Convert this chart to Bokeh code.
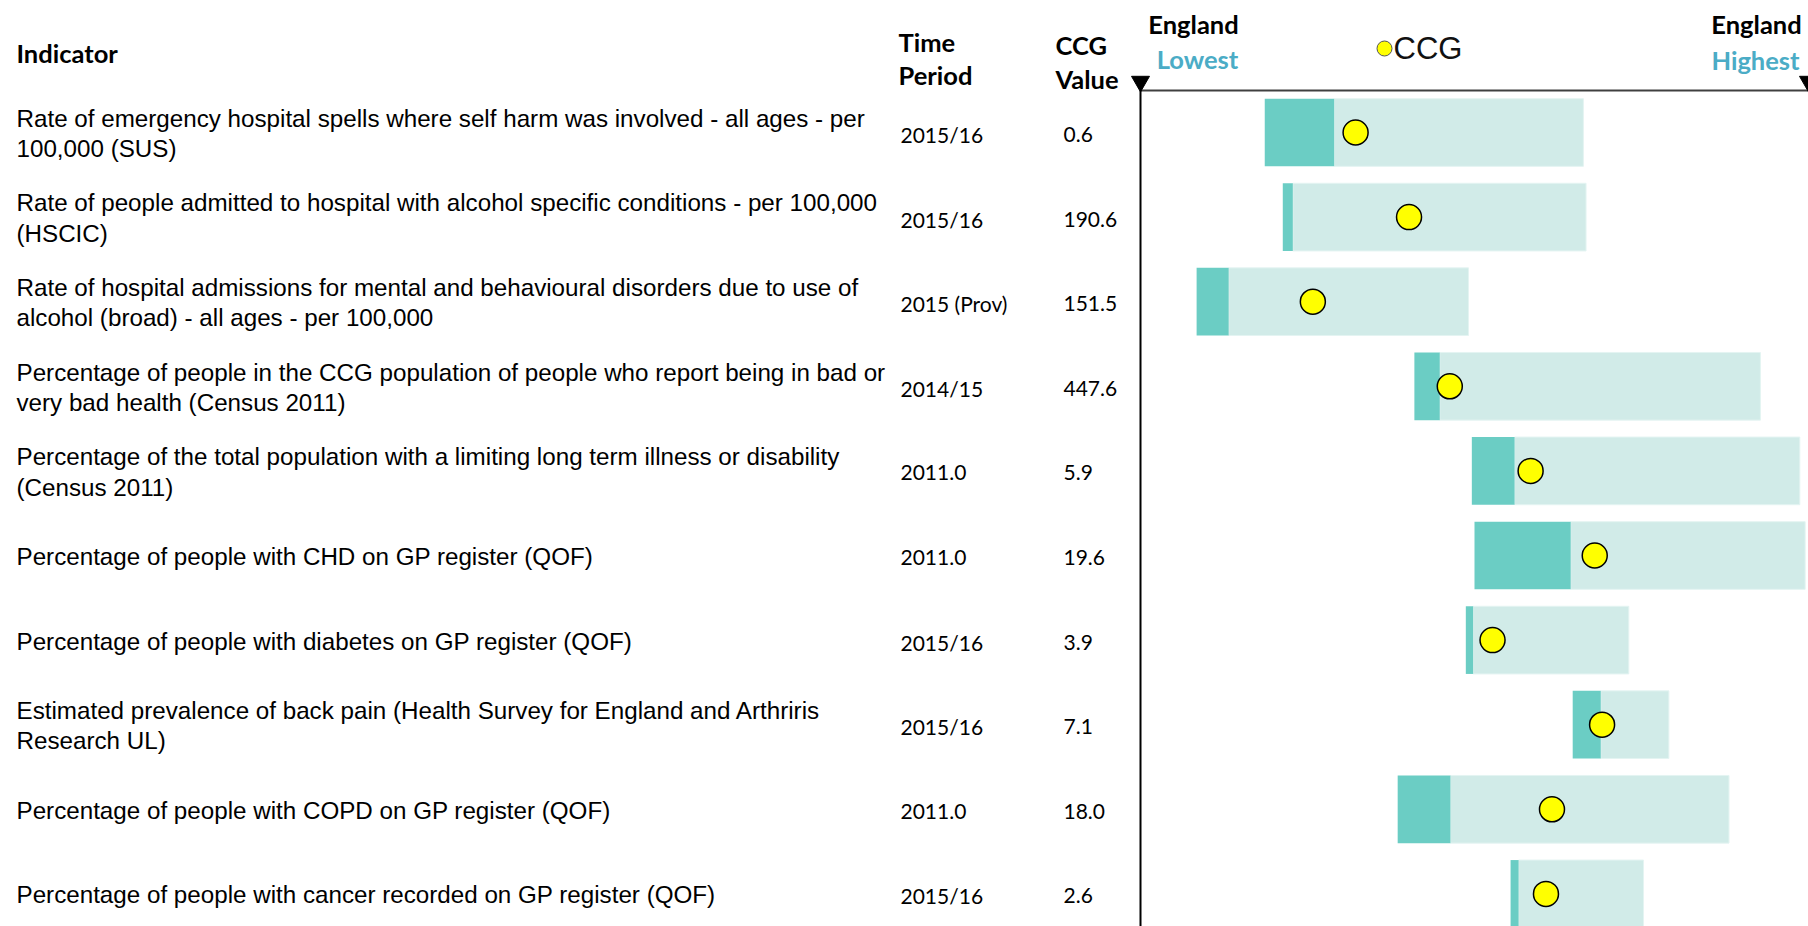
from bokeh.plotting import figure
from bokeh.layouts import row
from bokeh.models import Range1d, ColumnDataSource
from bokeh.core.properties import value
from bokeh.embed import file_html
from bokeh.resources import INLINE

# ---------------- data ----------------
indicators = [
    "Rate of emergency hospital spells where self harm was involved - all ages - per\n100,000 (SUS)",
    "Rate of people admitted to hospital with alcohol specific conditions - per 100,000\n(HSCIC)",
    "Rate of hospital admissions for mental and behavioural disorders due to use of\nalcohol (broad) - all ages - per 100,000",
    "Percentage of people in the CCG population of people who report being in bad or\nvery bad health (Census 2011)",
    "Percentage of the total population with a limiting long term illness or disability\n(Census 2011)",
    "Percentage of people with CHD on GP register (QOF)",
    "Percentage of people with diabetes on GP register (QOF)",
    "Estimated prevalence of back pain (Health Survey for England and Arthriris\nResearch UL)",
    "Percentage of people with COPD on GP register (QOF)",
    "Percentage of people with cancer recorded on GP register (QOF)",
]
time_periods = ["2015/16", "2015/16", "2015 (Prov)", "2014/15", "2011.0",
                "2011.0", "2015/16", "2015/16", "2011.0", "2015/16"]
ccg_values = ["0.6", "190.6", "151.5", "447.6", "5.9",
              "19.6", "3.9", "7.1", "18.0", "2.6"]

# positions on the spine scale (0 = England lowest, 100 = England highest)
band_start = [18.6, 21.3, 8.4, 41.0, 49.6, 50.0, 48.7, 64.7, 38.5, 55.4]
band_mid = [29.0, 22.8, 13.2, 44.8, 56.0, 64.4, 49.8, 68.9, 46.4, 56.6]
band_end = [66.3, 66.7, 49.1, 92.8, 98.7, 99.5, 73.1, 79.1, 88.1, 75.3]
ccg_pos = [32.2, 40.2, 25.8, 46.3, 58.4, 68.0, 52.7, 69.1, 61.6, 60.7]

# ---------------- layout constants ----------------
H = 926
ROW_PX = 84.6
TOP_PX = 132.0
Y_TOP = -TOP_PX / ROW_PX
Y_BOT = (H - TOP_PX) / ROW_PX


def ypix(page_y):
    return (page_y - TOP_PX) / ROW_PX


rows = list(range(len(indicators)))
DARK = "#6bcdc4"
LIGHT = "#d1ebe8"
BLUE = "#4bacc6"

BODY_FONT = value("Liberation Sans")
CAL = value("Lato")

# ---------------- left table figure ----------------
WL = 1120
left = figure(width=WL, height=H, x_range=Range1d(0, WL), y_range=Range1d(Y_BOT, Y_TOP),
              output_backend="svg", toolbar_location=None,
              x_axis_location=None, y_axis_location=None, min_border=0,
              outline_line_color=None)
left.grid.visible = False

tsrc = ColumnDataSource(dict(y=rows, ind=indicators, tp=time_periods, cv=ccg_values))
left.text(x=16, y="y", text="ind", source=tsrc, text_font=BODY_FONT, text_font_size="24.2px",
          text_baseline="middle", text_align="left", text_color="#000000",
          text_line_height=1.13, y_offset=1)
left.text(x=900, y="y", text="tp", source=tsrc, text_font=CAL, text_font_size="21px",
          text_baseline="middle", text_align="left", text_color="#000000", y_offset=2)
left.text(x=1063, y="y", text="cv", source=tsrc, text_font=CAL, text_font_size="21px",
          text_baseline="middle", text_align="left", text_color="#000000", y_offset=2)

hdr = dict(text_font=CAL, text_font_size="25.5px", text_font_style="bold",
           text_baseline="middle", text_align="left", text_color="#000000")
left.text(x=[16], y=[ypix(52)], text=["Indicator"], **hdr)
left.text(x=[898], y=[ypix(41)], text=["Time"], **hdr)
left.text(x=[898], y=[ypix(74)], text=["Period"], **hdr)
left.text(x=[1055], y=[ypix(44)], text=["CCG"], **hdr)
left.text(x=[1055], y=[ypix(78)], text=["Value"], **hdr)

# ---------------- right spine chart ----------------
AXIS_PX = 1140
WR = 1808 - WL
PX_PER_UNIT = 6.68
x0 = (WL - AXIS_PX) / PX_PER_UNIT
x1 = x0 + WR / PX_PER_UNIT
right = figure(width=WR, height=H, x_range=Range1d(x0, x1), y_range=Range1d(Y_BOT, Y_TOP),
               output_backend="svg", toolbar_location=None,
               x_axis_location=None, y_axis_location=None, min_border=0,
               outline_line_color=None)
right.grid.visible = False

bsrc = ColumnDataSource(dict(y=rows, s=band_start, m=band_mid, e=band_end, c=ccg_pos))
right.hbar(y="y", left="m", right="e", height=0.8, source=bsrc,
           fill_color=LIGHT, line_color="#e4f4f2", line_width=1)
right.hbar(y="y", left="s", right="m", height=0.8, source=bsrc,
           fill_color=DARK, line_color=None)
right.scatter(x="c", y="y", source=bsrc, marker="circle", size=25,
              fill_color="#ffff00", line_color="#000000", line_width=1.5)

# axis lines
ytop_line = ypix(90)
right.segment(x0=[0], y0=[ytop_line], x1=[100], y1=[ytop_line], line_color="#404040", line_width=2)
right.segment(x0=[0], y0=[ytop_line], x1=[0], y1=[Y_BOT], line_color="#000000", line_width=2)
right.scatter(x=[0, 100], y=[ypix(81), ypix(81)], marker="inverted_triangle", size=18,
              fill_color="#000000", line_color="#000000")

# header labels
chdr = dict(text_font=CAL, text_font_size="25.5px", text_font_style="bold",
            text_baseline="middle", text_align="center")
right.text(x=[(1193 - AXIS_PX) / PX_PER_UNIT], y=[ypix(23)], text=["England"], text_color="#000000", **chdr)
right.text(x=[(1197 - AXIS_PX) / PX_PER_UNIT], y=[ypix(58)], text=["Lowest"], text_color=BLUE, **chdr)
right.text(x=[(1756 - AXIS_PX) / PX_PER_UNIT], y=[ypix(23)], text=["England"], text_color="#000000", **chdr)
right.text(x=[(1755 - AXIS_PX) / PX_PER_UNIT], y=[ypix(59)], text=["Highest"], text_color=BLUE, **chdr)

# legend
right.scatter(x=[(1384 - AXIS_PX) / PX_PER_UNIT], y=[ypix(48)], marker="circle", size=15,
              fill_color="#ffff00", line_color="#555555", line_width=1)
right.text(x=[(1393 - AXIS_PX) / PX_PER_UNIT], y=[ypix(48)], text=["CCG"], text_font=BODY_FONT,
           text_font_size="31px", text_baseline="middle", text_align="left", text_color="#111111")

layout = row(left, right, spacing=0)

open("out.html", "w").write(file_html(layout, INLINE))
